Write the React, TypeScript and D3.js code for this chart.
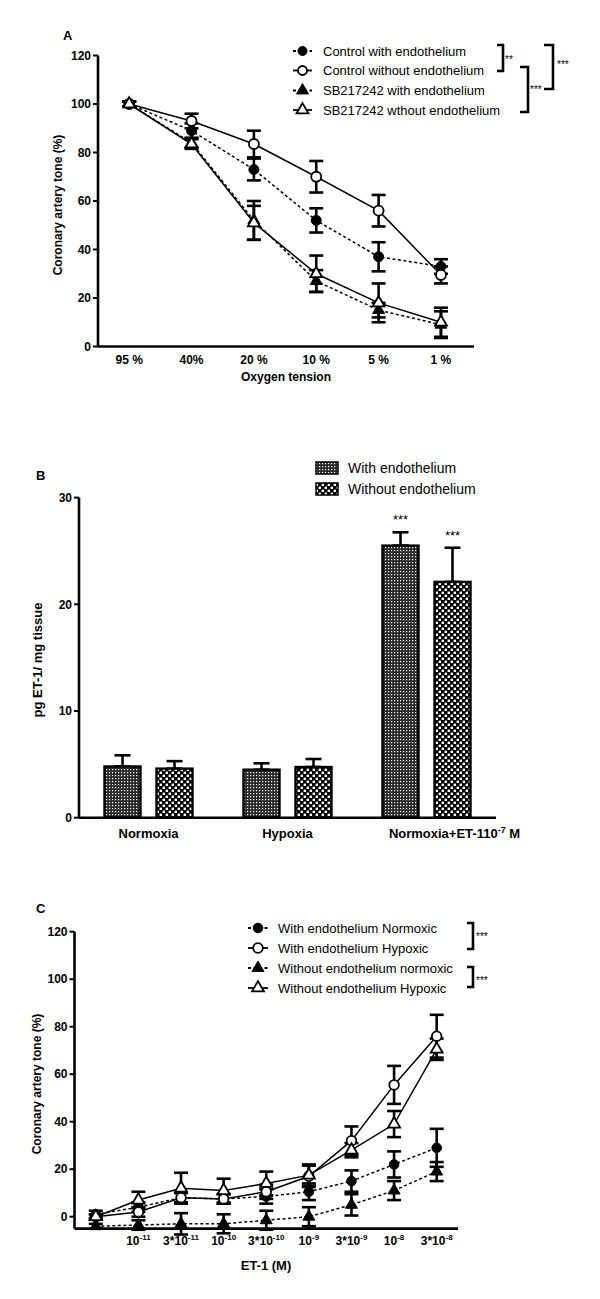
import React from 'react';
import * as d3 from 'd3';

const FONT = '"Liberation Sans", Arial, Helvetica, sans-serif';

// ---------- Panel A data ----------
const oxygenLabels = ['95 %', '40%', '20 %', '10 %', '5 %', '1 %'];
const aNames = ['Control with endothelium', 'Control without endothelium', 'SB217242 with endothelium', 'SB217242 wthout endothelium'];
const aCtrlWith = [100, 89, 73, 52, 37, 33];
const aCtrlWithErr = [1, 3, 4.5, 5, 6, 3];
const aCtrlWithout = [100, 93, 83.5, 70, 56, 29.5];
const aCtrlWithoutErr = [1, 3, 5.5, 6.5, 6.5, 3.5];
const aSbWith = [100, 84, 52, 27, 15, 9];
const aSbWithErr = [1, 2, 8, 4.5, 3, 5.5];
const aSbWithout = [100, 83.5, 51, 30, 18, 10];
const aSbWithoutErr = [1, 2, 7, 7.5, 8, 6];
const aTicks = [0, 20, 40, 60, 80, 100, 120];

// ---------- Panel B data ----------
const bGroups = ['Normoxia', 'Hypoxia', 'Normoxia+ET-1'];
const bNames = ['With endothelium', 'Without endothelium'];
const bWith = [4.8, 4.5, 25.5];
const bWithErr = [1.05, 0.6, 1.25];
const bWithout = [4.6, 4.75, 22.1];
const bWithoutErr = [0.7, 0.75, 3.2];
const bSig = ['', '', '***'];
const bTicks = [0, 10, 20, 30];

// ---------- Panel C data ----------
const etBase = ['', '10', '3*10', '10', '3*10', '10', '3*10', '10', '3*10'];
const etExp = ['', '-11', '-11', '-10', '-10', '-9', '-9', '-8', '-8'];
const cNames = ['With endothelium Normoxic', 'With endothelium Hypoxic', 'Without endothelium normoxic', 'Without endothelium Hypoxic'];
const cWithNorm = [1, 4, 8, 7.5, 8.5, 10.5, 15, 22, 29];
const cWithNormErr = [1.5, 2, 2, 2, 3, 3.5, 4.5, 5.5, 8];
const cWithHyp = [0, 2, 8, 7.5, 10.5, 17, 32, 55.5, 76];
const cWithHypErr = [1, 2, 2, 2, 3, 4.5, 6, 8, 9];
const cWithoutNorm = [-4, -3.5, -3, -3, -1.5, 0, 5, 11, 19];
const cWithoutNormErr = [1, 2, 4.5, 4, 4, 4, 4.5, 4, 4];
const cWithoutHyp = [0, 7, 12, 11, 14, 17.5, 28, 39, 70.5];
const cWithoutHypErr = [1, 3.5, 6.5, 5, 5, 4.5, 3, 5.5, 4.5];
const cTicks = [0, 20, 40, 60, 80, 100, 120];

type Kind = 'fc' | 'oc' | 'ft' | 'ot';

const triPath = d3.symbol().type(d3.symbolTriangle).size(62)() as string;

function Marker({ kind, x, y, r = 5 }: { kind: Kind; x: number; y: number; r?: number }) {
  if (kind === 'fc') return <circle cx={x} cy={y} r={r} fill="#000" stroke="#000" strokeWidth={1} />;
  if (kind === 'oc') return <circle cx={x} cy={y} r={r} fill="#fff" stroke="#000" strokeWidth={1.8} />;
  if (kind === 'ft') return <path d={triPath} transform={`translate(${x},${y})`} fill="#000" stroke="#000" strokeWidth={1} />;
  return <path d={triPath} transform={`translate(${x},${y})`} fill="#fff" stroke="#000" strokeWidth={1.8} />;
}

function ErrBar({ x, y1, y2, w = 7, sw = 2.6 }: { x: number; y1: number; y2: number; w?: number; sw?: number }) {
  return (
    <g stroke="#000" strokeWidth={sw} fill="none">
      <line x1={x} x2={x} y1={y1} y2={y2} />
      <line x1={x - w} x2={x + w} y1={y1} y2={y1} />
      <line x1={x - w} x2={x + w} y1={y2} y2={y2} />
    </g>
  );
}

function YAxis({ x, y, ticks, y0, y1 }: { x: number; y: d3.ScaleLinear<number, number>; ticks: number[]; y0: number; y1: number }) {
  return (
    <g>
      <line x1={x} x2={x} y1={y0} y2={y1} stroke="#000" strokeWidth={2.6} />
      {ticks.map((t) => (
        <g key={t}>
          <line x1={x - 5} x2={x} y1={y(t)} y2={y(t)} stroke="#000" strokeWidth={2} />
          <text x={x - 7} y={y(t)} dy="0.35em" textAnchor="end" fontSize={12} fontWeight="bold" fontFamily={FONT}>{t}</text>
        </g>
      ))}
    </g>
  );
}

function Bracket({ x0, x1, y0, y1 }: { x0: number; x1: number; y0: number; y1: number }) {
  return <path d={`M${x0},${y0}H${x1}V${y1}H${x0}`} fill="none" stroke="#000" strokeWidth={2.6} />;
}

export default function App() {
  // ----- Panel A -----
  const xA = d3.scaleLinear().domain([-0.5, 5.53]).range([98, 474]);
  const yA = d3.scaleLinear().domain([0, 120]).range([346.5, 55.5]);
  const aSeries = [
    { name: aNames[0], v: aCtrlWith, e: aCtrlWithErr, kind: 'fc' as Kind, dash: '3,2.5' },
    { name: aNames[1], v: aCtrlWithout, e: aCtrlWithoutErr, kind: 'oc' as Kind, dash: '' },
    { name: aNames[2], v: aSbWith, e: aSbWithErr, kind: 'ft' as Kind, dash: '3,2.5' },
    { name: aNames[3], v: aSbWithout, e: aSbWithoutErr, kind: 'ot' as Kind, dash: '' },
  ];
  const lineA = d3.line<number>().x((_, i) => xA(i)).y((d) => yA(d));
  const aLegendY = [51, 70.5, 90.5, 110];

  // ----- Panel B -----
  const xB = d3.scaleBand<string>().domain(bGroups).range([79, 496]);
  const yB = d3.scaleLinear().domain([0, 30]).range([817.7, 497.6]);
  const barW = 36;
  const barOff = [-44, 8];
  const bSeries = [
    { name: bNames[0], v: bWith, e: bWithErr, fill: 'url(#patWith)' },
    { name: bNames[1], v: bWithout, e: bWithoutErr, fill: 'url(#patWithout)' },
  ];

  // ----- Panel C -----
  const xC = d3.scaleLinear().domain([-0.5, 8.5]).range([74.5, 458]);
  const yC = d3.scaleLinear().domain([0, 120]).range([1216.7, 931.7]);
  const cSeries = [
    { name: cNames[0], v: cWithNorm, e: cWithNormErr, kind: 'fc' as Kind, dash: '3,2.5' },
    { name: cNames[1], v: cWithHyp, e: cWithHypErr, kind: 'oc' as Kind, dash: '' },
    { name: cNames[2], v: cWithoutNorm, e: cWithoutNormErr, kind: 'ft' as Kind, dash: '3,2.5' },
    { name: cNames[3], v: cWithoutHyp, e: cWithoutHypErr, kind: 'ot' as Kind, dash: '' },
  ];
  const lineC = d3.line<number>().x((_, i) => xC(i)).y((d) => yC(d));
  const cLegendY = [928, 948, 968, 988];

  return (
    <svg width={600} height={1299} style={{ position: 'absolute', left: 0, top: 0, display: 'block', background: '#fff' }} fontFamily={FONT}>
      <defs>
        <pattern id="patWith" width={3} height={3} patternUnits="userSpaceOnUse">
          <rect width={3} height={3} fill="#2a2a2a" />
          <rect x={1} y={1} width={1.2} height={1.2} fill="#fff" />
        </pattern>
        <pattern id="patWithout" width={6} height={6} patternUnits="userSpaceOnUse">
          <rect width={6} height={6} fill="#000" />
          <rect x={0.6} y={0.6} width={2.4} height={2.4} fill="#fff" />
          <rect x={3.6} y={3.6} width={2.4} height={2.4} fill="#fff" />
        </pattern>
      </defs>
      <rect width={600} height={1299} fill="#fff" />

      {/* ================= Panel A ================= */}
      <text x={63} y={40} fontSize={13} fontWeight="bold">A</text>
      <YAxis x={98} y={yA} ticks={aTicks} y0={346.5} y1={55.5} />
      <line x1={98} x2={474} y1={346.5} y2={346.5} stroke="#000" strokeWidth={2.6} />
      {oxygenLabels.map((l, i) => (
        <text key={l} x={xA(i)} y={364} textAnchor="middle" fontSize={12} fontWeight="bold">{l}</text>
      ))}
      <text x={286} y={381} textAnchor="middle" fontSize={12} fontWeight="bold">Oxygen tension</text>
      <text transform="translate(62,205) rotate(-90)" textAnchor="middle" fontSize={12} fontWeight="bold">Coronary artery tone (%)</text>
      {aSeries.map((s) => (
        <path key={s.name + 'l'} d={lineA(s.v) as string} fill="none" stroke="#000" strokeWidth={1.5} strokeDasharray={s.dash} />
      ))}
      {aSeries.map((s) => (
        <g key={s.name + 'e'}>
          {s.v.map((v, i) => (
            <ErrBar key={i} x={xA(i)} y1={yA(v + s.e[i])} y2={yA(v - s.e[i])} />
          ))}
        </g>
      ))}
      {aSeries.map((s) => (
        <g key={s.name + 'm'}>
          {s.v.map((v, i) => (
            <Marker key={i} kind={s.kind} x={xA(i)} y={yA(v)} r={5} />
          ))}
        </g>
      ))}
      {/* legend A */}
      {aSeries.map((s, i) => (
        <g key={s.name + 'lg'}>
          <line x1={293} x2={312} y1={aLegendY[i]} y2={aLegendY[i]} stroke="#000" strokeWidth={1.8} strokeDasharray={s.dash} />
          <Marker kind={s.kind} x={302.5} y={aLegendY[i]} r={4.5} />
          <text x={323} y={aLegendY[i]} dy="0.35em" fontSize={13}>{s.name}</text>
        </g>
      ))}
      <Bracket x0={497} x1={503} y0={45} y1={71} />
      <text x={505} y={63} fontSize={10}>**</text>
      <Bracket x0={520} x1={528} y0={67} y1={112} />
      <text x={530} y={93} fontSize={10}>***</text>
      <Bracket x0={544} x1={553} y0={45} y1={89} />
      <text x={557} y={68} fontSize={10}>***</text>

      {/* ================= Panel B ================= */}
      <text x={36} y={480} fontSize={13} fontWeight="bold">B</text>
      <YAxis x={79} y={yB} ticks={bTicks} y0={817.7} y1={497.6} />
      {bSeries.map((s, si) => (
        <g key={s.name}>
          {s.v.map((v, gi) => {
            const cx = (xB(bGroups[gi]) as number) + xB.bandwidth() / 2 + barOff[si];
            return (
              <g key={gi}>
                <ErrBar x={cx + barW / 2} y1={yB(v + s.e[gi])} y2={yB(v)} w={8} sw={2.6} />
                <rect x={cx} y={yB(v)} width={barW} height={yB(0) - yB(v)} fill={s.fill} stroke="#000" strokeWidth={2.4} />
                {bSig[gi] && (
                  <text x={cx + barW / 2} y={yB(v + s.e[gi]) - 8} textAnchor="middle" fontSize={13}>{bSig[gi]}</text>
                )}
              </g>
            );
          })}
        </g>
      ))}
      <line x1={79} x2={496} y1={817.7} y2={817.7} stroke="#000" strokeWidth={2.6} />
      {bGroups.map((g, gi) => {
        const cx = (xB(g) as number) + xB.bandwidth() / 2;
        if (gi === 2) {
          return (
            <text key={g} x={cx + 28} y={838} textAnchor="middle" fontSize={13} fontWeight="bold">
              {g}10<tspan dy={-5} fontSize={9}>-7</tspan><tspan dy={5}> M</tspan>
            </text>
          );
        }
        return <text key={g} x={cx} y={838} textAnchor="middle" fontSize={13} fontWeight="bold">{g}</text>;
      })}
      <text transform="translate(42,660) rotate(-90)" textAnchor="middle" fontSize={13} fontWeight="bold">pg ET-1/ mg tissue</text>
      {bSeries.map((s, i) => (
        <g key={s.name + 'lg'}>
          <rect x={316} y={462 + i * 21} width={22} height={12} fill={s.fill} stroke="#000" strokeWidth={1.5} />
          <text x={348} y={468 + i * 21} dy="0.35em" fontSize={14}>{s.name}</text>
        </g>
      ))}

      {/* ================= Panel C ================= */}
      <text x={36} y={913} fontSize={13} fontWeight="bold">C</text>
      <YAxis x={74.5} y={yC} ticks={cTicks} y0={1228.6} y1={931.7} />
      <line x1={74.5} x2={458} y1={1228.6} y2={1228.6} stroke="#000" strokeWidth={2.6} />
      {etBase.map((b, i) =>
        b ? (
          <text key={i} x={xC(i)} y={1245} textAnchor="middle" fontSize={12} fontWeight="bold">
            {b}<tspan dy={-5} fontSize={8}>{etExp[i]}</tspan>
          </text>
        ) : null
      )}
      <text x={266} y={1270} textAnchor="middle" fontSize={13} fontWeight="bold">ET-1 (M)</text>
      <text transform="translate(41,1084) rotate(-90)" textAnchor="middle" fontSize={12} fontWeight="bold">Coronary artery tone (%)</text>
      {cSeries.map((s) => (
        <path key={s.name + 'l'} d={lineC(s.v) as string} fill="none" stroke="#000" strokeWidth={1.5} strokeDasharray={s.dash} />
      ))}
      {cSeries.map((s) => (
        <g key={s.name + 'e'}>
          {s.v.map((v, i) => (
            <ErrBar key={i} x={xC(i)} y1={yC(v + s.e[i])} y2={yC(v - s.e[i])} />
          ))}
        </g>
      ))}
      {cSeries.map((s) => (
        <g key={s.name + 'm'}>
          {s.v.map((v, i) => (
            <Marker key={i} kind={s.kind} x={xC(i)} y={yC(v)} r={4.8} />
          ))}
        </g>
      ))}
      {cSeries.map((s, i) => (
        <g key={s.name + 'lg'}>
          <line x1={248} x2={268} y1={cLegendY[i]} y2={cLegendY[i]} stroke="#000" strokeWidth={1.8} strokeDasharray={s.dash} />
          <Marker kind={s.kind} x={258} y={cLegendY[i]} r={4.8} />
          <text x={278} y={cLegendY[i]} dy="0.35em" fontSize={13}>{s.name}</text>
        </g>
      ))}
      <Bracket x0={467} x1={473} y0={923} y1={949} />
      <text x={476} y={940} fontSize={10}>***</text>
      <Bracket x0={467} x1={473} y0={967} y1={987} />
      <text x={476} y={984} fontSize={10}>***</text>
    </svg>
  );
}
